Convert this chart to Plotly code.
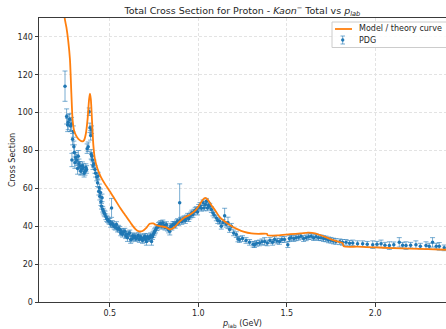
import plotly.graph_objects as go

# PDG measurements: lab momentum (GeV), total cross section (mb), uncertainty
p_data = [0.247, 0.256, 0.262, 0.265, 0.273, 0.278, 0.284, 0.286, 0.29, 0.294,
          0.297, 0.30, 0.303, 0.308, 0.313, 0.318, 0.322, 0.326, 0.331, 0.336,
          0.34, 0.345, 0.35, 0.355, 0.36, 0.365, 0.369, 0.372, 0.378, 0.384,
          0.388, 0.392, 0.395, 0.397, 0.399, 0.402, 0.405, 0.41, 0.416, 0.42,
          0.426, 0.431, 0.434, 0.438, 0.441, 0.444, 0.447, 0.45, 0.453, 0.456,
          0.46, 0.463, 0.468, 0.473, 0.478, 0.483, 0.488, 0.494, 0.50, 0.505,
          0.51, 0.514, 0.519, 0.525, 0.531, 0.538, 0.544, 0.55, 0.557, 0.562,
          0.566, 0.572, 0.578, 0.585, 0.59, 0.594, 0.60, 0.607, 0.613, 0.618,
          0.623, 0.63, 0.635, 0.641, 0.648, 0.655, 0.66, 0.667, 0.673, 0.679,
          0.685, 0.692, 0.698, 0.703, 0.707, 0.713, 0.72, 0.726, 0.731, 0.736,
          0.741, 0.745, 0.75, 0.754, 0.758, 0.764, 0.77, 0.776, 0.782, 0.788,
          0.794, 0.80, 0.806, 0.812, 0.82, 0.826, 0.833, 0.839, 0.845, 0.851,
          0.857, 0.864, 0.87, 0.877, 0.883, 0.889, 0.895, 0.90, 0.907, 0.914,
          0.92, 0.927, 0.933, 0.94, 0.946, 0.952, 0.958, 0.964, 0.97, 0.976,
          0.983, 0.99, 0.996, 1.003, 1.01, 1.018, 1.027, 1.033, 1.04, 1.046,
          1.052, 1.058, 1.065, 1.074, 1.083, 1.09, 1.102, 1.11, 1.121, 1.13,
          1.14, 1.149, 1.158, 1.168, 1.177, 1.187, 1.20, 1.215, 1.224, 1.233,
          1.25, 1.27, 1.29, 1.31, 1.318, 1.33, 1.346, 1.36, 1.375, 1.39,
          1.405, 1.42, 1.431, 1.445, 1.459, 1.472, 1.487, 1.506, 1.515, 1.525,
          1.54, 1.553, 1.567, 1.581, 1.595, 1.61, 1.624, 1.638, 1.652, 1.666,
          1.68, 1.694, 1.708, 1.722, 1.736, 1.75, 1.764, 1.778, 1.80, 1.815,
          1.835, 1.855, 1.873, 1.90, 1.929, 1.955, 1.986, 2.01, 2.033, 2.055,
          2.08, 2.105, 2.136, 2.155, 2.174, 2.20, 2.23, 2.255, 2.287, 2.305,
          2.324, 2.345, 2.362, 2.39]
sigma_data = [114.0, 98.0, 93.5, 95.0, 96.5, 93.0, 94.0, 75.0, 86.0, 90.0,
              82.0, 79.0, 73.6, 76.5, 75.0, 70.5, 77.0, 73.0, 71.7, 69.0,
              70.0, 72.0, 71.0, 68.0, 69.0, 71.0, 70.0, 81.0, 82.0, 100.5,
              92.0, 88.0, 78.0, 91.0, 77.0, 75.0, 72.0, 73.0, 70.0, 68.0,
              66.0, 63.0, 66.5, 58.5, 60.3, 55.9, 57.7, 53.0, 50.6, 55.0,
              49.0, 48.0, 47.0, 46.5, 45.0, 44.0, 43.5, 42.8, 42.6, 41.0,
              49.7, 41.5, 40.8, 40.0, 39.5, 40.9, 38.5, 39.0, 38.3, 36.5,
              37.2, 35.8, 37.0, 37.4, 35.0, 35.6, 34.0, 36.0, 36.5, 33.0,
              33.3, 35.0, 34.0, 34.7, 33.5, 34.0, 35.1, 33.0, 34.5, 33.9,
              32.5, 34.0, 34.7, 33.0, 32.0, 34.5, 33.5, 33.9, 35.0, 32.0,
              34.5, 35.6, 36.5, 37.4, 38.0, 39.2, 39.5, 40.5, 40.9, 41.5,
              40.0, 41.8, 40.5, 39.5, 40.9, 39.0, 38.0, 37.4, 40.0, 39.5,
              40.9, 41.0, 40.5, 41.8, 42.5, 42.0, 52.4, 43.2, 42.5, 43.5,
              44.0, 43.0, 44.4, 45.3, 44.0, 45.3, 46.0, 47.0, 46.2, 47.5,
              48.5, 48.8, 47.5, 50.0, 51.0, 49.5, 52.4, 49.7, 51.5, 53.2,
              49.7, 51.0, 50.6, 48.8, 47.0, 46.0, 44.4, 43.0, 42.6, 40.0,
              42.0, 45.5, 41.0, 41.8, 38.3, 40.0, 36.5, 35.6, 33.3, 33.0,
              33.5, 32.5, 31.5, 30.5, 30.3, 31.0, 31.2, 31.8, 32.0, 31.2,
              32.5, 31.5, 33.0, 32.2, 32.0, 33.0, 33.0, 30.3, 33.5, 33.9,
              33.5, 33.9, 34.2, 34.7, 33.5, 33.9, 34.5, 34.7, 34.0, 34.4,
              34.0, 33.9, 33.5, 33.3, 32.8, 32.6, 32.2, 32.0, 31.8, 31.5,
              31.5, 31.0, 31.2, 30.8, 30.8, 30.5, 30.3, 30.5, 30.7, 30.0,
              29.8, 30.2, 31.5, 30.0, 29.8, 30.0, 30.3, 29.5, 29.8, 29.5,
              31.5, 29.5, 29.4, 28.6]
err_data = [8.0, 4.0, 3.5, 4.0, 3.0, 3.0, 3.5, 3.5, 3.0, 3.0,
            3.0, 4.0, 3.0, 2.5, 3.0, 3.0, 3.0, 2.5, 2.5, 2.0,
            2.5, 2.0, 2.0, 2.0, 2.0, 2.0, 2.0, 2.5, 2.5, 2.0,
            2.5, 2.5, 2.5, 2.0, 2.0, 2.5, 2.0, 2.0, 2.0, 2.0,
            2.0, 2.0, 2.0, 2.0, 2.0, 2.0, 2.0, 2.0, 1.5, 2.0,
            1.5, 1.5, 1.5, 1.5, 1.5, 1.5, 1.5, 1.5, 1.5, 1.5,
            5.0, 1.5, 1.5, 1.5, 1.5, 1.5, 1.5, 1.5, 1.5, 1.5,
            1.5, 1.5, 1.5, 1.5, 1.5, 1.5, 2.0, 1.5, 1.5, 2.0,
            1.5, 1.5, 1.5, 1.5, 1.5, 1.5, 1.5, 1.5, 1.5, 1.5,
            1.5, 1.5, 1.5, 1.5, 2.0, 1.5, 1.5, 1.5, 1.5, 2.0,
            1.5, 1.5, 1.5, 1.5, 1.5, 1.5, 1.5, 1.5, 1.5, 1.5,
            1.5, 1.5, 1.5, 1.5, 1.5, 1.5, 1.5, 2.0, 1.5, 1.5,
            1.5, 1.5, 1.5, 1.5, 1.5, 1.5, 10.0, 1.5, 1.5, 1.5,
            1.5, 1.5, 1.5, 1.5, 1.5, 1.5, 1.5, 1.5, 1.5, 1.5,
            1.5, 1.5, 1.5, 1.5, 1.5, 1.5, 1.5, 1.5, 1.5, 1.5,
            1.5, 1.5, 1.5, 1.5, 1.5, 1.5, 1.5, 1.5, 1.5, 1.5,
            1.5, 4.0, 1.5, 3.0, 1.5, 1.5, 1.5, 1.5, 1.5, 1.5,
            1.5, 1.5, 1.5, 1.5, 1.5, 1.5, 1.5, 1.5, 2.0, 1.5,
            1.5, 1.5, 1.5, 1.5, 1.5, 1.5, 1.5, 1.5, 1.5, 1.5,
            1.5, 1.5, 1.5, 1.5, 1.5, 1.5, 1.5, 1.5, 1.5, 1.5,
            1.5, 1.5, 1.5, 1.5, 1.5, 1.5, 1.5, 1.5, 1.5, 1.5,
            1.5, 1.5, 1.5, 1.5, 1.5, 1.5, 2.0, 1.5, 2.0, 1.5,
            2.0, 1.5, 2.5, 1.5, 2.0, 1.5, 2.0, 1.5, 2.0, 1.5,
            2.5, 1.5, 2.0, 1.5]

# Model / theory curve
p_model = [0.24, 0.245, 0.255, 0.265, 0.275, 0.283, 0.29, 0.30, 0.315, 0.33,
           0.345, 0.355, 0.365, 0.375, 0.383, 0.388, 0.393, 0.40, 0.407, 0.415,
           0.43, 0.45, 0.475, 0.50, 0.53, 0.56, 0.59, 0.62, 0.645, 0.665,
           0.685, 0.705, 0.725, 0.745, 0.765, 0.79, 0.815, 0.84, 0.865, 0.89,
           0.92, 0.95, 0.98, 1.005, 1.025, 1.04, 1.055, 1.075, 1.095, 1.12,
           1.15, 1.18, 1.22, 1.26, 1.30, 1.34, 1.388, 1.392, 1.45, 1.52,
           1.58, 1.62, 1.66, 1.70, 1.74, 1.78, 1.815, 1.822, 1.90, 2.00,
           2.10, 2.20, 2.30, 2.40]
sigma_model = [160.0, 150.0, 145.0, 138.0, 128.0, 110.0, 96.0, 90.0, 87.0, 85.5,
               84.8, 85.5, 89.0, 97.0, 107.0, 110.0, 107.0, 95.0, 83.0, 76.0,
               70.5, 66.0, 62.0, 58.5, 54.0, 49.5, 45.5, 41.5, 38.5, 37.3,
               37.5, 39.0, 41.3, 41.5, 40.5, 40.0, 39.5, 38.3, 39.5, 42.0,
               44.5, 46.0, 48.0, 51.0, 54.0, 55.0, 54.0, 51.0, 48.5, 45.0,
               42.5, 40.5, 38.5, 37.0, 36.2, 36.0, 36.0, 35.2, 35.2, 35.8,
               36.2, 36.6, 36.3, 35.0, 33.5, 32.2, 31.2, 29.4, 29.2, 28.8,
               28.5, 28.2, 27.9, 27.6]

x_ticks = [0.5, 1.0, 1.5, 2.0]
x_tick_labels = ["0.5", "1.0", "1.5", "2.0"]
y_ticks = [0, 20, 40, 60, 80, 100, 120, 140]

series_names = ["Model / theory curve", "PDG"]

BLUE = "#1f77b4"
ORANGE = "#ff7f0e"
FONT = "DejaVu Sans"
TEXT = "#262626"
SPINE = "#3a3a3a"

W, H = 446, 329
ML, MR, MT, MB = 39, 0, 18, 27


def px_x(px):
    """Horizontal pixel position -> paper coordinate."""
    return (px - ML) / (W - ML - MR)


def px_y(py):
    """Vertical pixel position (from top) -> paper coordinate."""
    return (H - MB - py) / (H - MT - MB)


fig = go.Figure()

fig.add_trace(go.Scatter(
    x=p_data, y=sigma_data, mode="markers", name=series_names[1],
    marker=dict(color=BLUE, size=3.5, symbol="circle"),
    error_y=dict(type="data", array=err_data, visible=True,
                 color="rgba(31,119,180,0.6)", thickness=1, width=2.5),
    showlegend=False,
))

fig.add_trace(go.Scatter(
    x=p_model, y=sigma_model, mode="lines", name=series_names[0],
    line=dict(color=ORANGE, width=1.8, shape="spline", smoothing=0.6),
    showlegend=False,
))

axis_common = dict(
    showline=True, linecolor=SPINE, linewidth=1,
    ticks="outside", ticklen=3.5, tickwidth=1, tickcolor=SPINE,
    showgrid=True, gridcolor="#e3e3e3", gridwidth=1, griddash="3px,2px",
    zeroline=False, tickfont=dict(family=FONT, size=8, color=TEXT),
    automargin=False,
)

fig.update_xaxes(
    range=[0.1, 2.4], tickvals=x_ticks, ticktext=x_tick_labels, mirror=True,
    title=dict(text="<i>p</i><sub>lab</sub> (GeV)", standoff=3,
               font=dict(family=FONT, size=8, color=TEXT)),
    **axis_common,
)
fig.update_yaxes(
    range=[0, 150], tickvals=y_ticks, mirror=False,
    title=dict(text="Cross Section", standoff=0,
               font=dict(family=FONT, size=8, color=TEXT)),
    **axis_common,
)

# Legend panel drawn in the upper right corner of the axes
shapes = [
    dict(type="rect", xref="paper", yref="paper",
         x0=px_x(332), x1=px_x(449), y0=px_y(47.5), y1=px_y(22),
         line=dict(color="#cccccc", width=1), fillcolor="rgba(255,255,255,0.85)",
         layer="above"),
    dict(type="line", xref="paper", yref="paper",
         x0=px_x(335), x1=px_x(352), y0=px_y(29), y1=px_y(29),
         line=dict(color=ORANGE, width=1.8), layer="above"),
    dict(type="line", xref="paper", yref="paper",
         x0=px_x(342.7), x1=px_x(342.7), y0=px_y(36), y1=px_y(44),
         line=dict(color="rgba(31,119,180,0.6)", width=1), layer="above"),
    dict(type="line", xref="paper", yref="paper",
         x0=px_x(340.5), x1=px_x(345), y0=px_y(36), y1=px_y(36),
         line=dict(color="rgba(31,119,180,0.6)", width=1), layer="above"),
    dict(type="line", xref="paper", yref="paper",
         x0=px_x(340.5), x1=px_x(345), y0=px_y(44), y1=px_y(44),
         line=dict(color="rgba(31,119,180,0.6)", width=1), layer="above"),
    dict(type="circle", xref="paper", yref="paper",
         x0=px_x(341.3), x1=px_x(344.1), y0=px_y(41.4), y1=px_y(38.6),
         line=dict(color=BLUE, width=0.5), fillcolor=BLUE, layer="above"),
]
annotations = [
    dict(text=series_names[0], xref="paper", yref="paper",
         x=px_x(357), y=px_y(29), xanchor="left", yanchor="middle",
         showarrow=False, font=dict(family=FONT, size=8, color=TEXT)),
    dict(text=series_names[1], xref="paper", yref="paper",
         x=px_x(357), y=px_y(40), xanchor="left", yanchor="middle",
         showarrow=False, font=dict(family=FONT, size=8, color=TEXT)),
]

fig.update_layout(
    width=W, height=H,
    margin=dict(l=ML, r=MR, t=MT, b=MB),
    paper_bgcolor="white", plot_bgcolor="white",
    title=dict(
        text="Total Cross Section for Proton - <i>Kaon</i><sup>\u2212</sup> Total vs <i>p</i><sub><i>lab</i></sub>",
        x=0.5435, xanchor="center", y=0.968, yanchor="middle",
        font=dict(family=FONT, size=9.5, color=TEXT),
    ),
    shapes=shapes,
    annotations=annotations,
    showlegend=False,
)

fig.write_html("out.html")
